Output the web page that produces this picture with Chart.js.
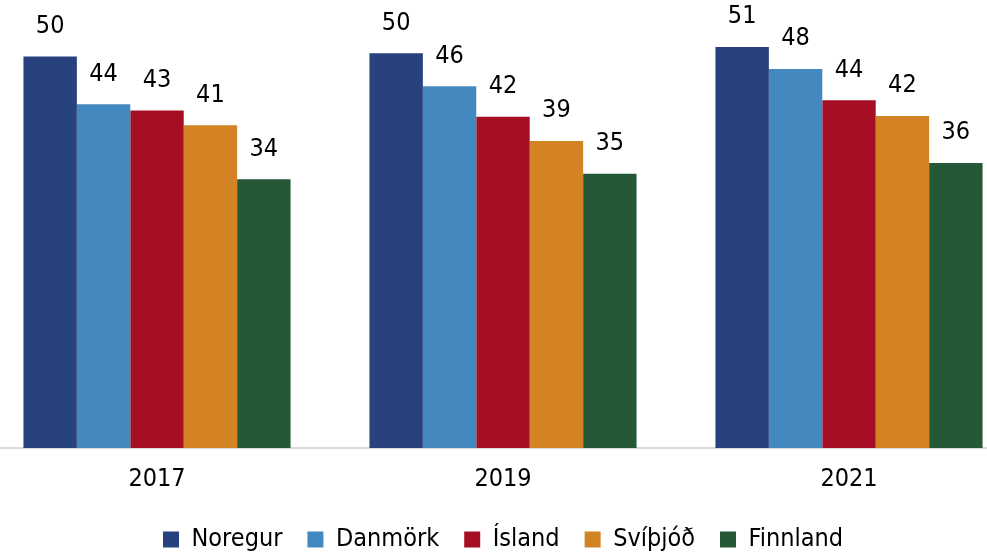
<!DOCTYPE html>
<html>
<head>
<meta charset="utf-8">
<script src="https://cdn.jsdelivr.net/npm/chart.js@4"></script>
<style>
  html, body { margin: 0; padding: 0; background: #fff; overflow: hidden; }
  #wrap { position: absolute; left: -16px; top: 0; width: 1038px; height: 554px; }
</style>
</head>
<body>
<div id="wrap"><canvas id="barChart"></canvas></div>
<script>
// Ár (flokkar)
const years = ['2017', '2019', '2021'];

// Gildi lesin af myndinni
const noregur  = [50.0, 50.4, 51.2];
const danmork  = [43.9, 46.2, 48.4];
const island   = [43.1, 42.3, 44.4];
const svithjod = [41.2, 39.2, 42.4];
const finnland = [34.3, 35.0, 36.4];

const seriesNames  = ['Noregur', 'Danmörk', 'Ísland', 'Svíþjóð', 'Finnland'];
const seriesValues = [noregur, danmork, island, svithjod, finnland];
const seriesColors = ['#27427f', '#4389bf', '#a60e24', '#d38323', '#245837'];

const fontFamily = '"DejaVu Sans Condensed", "Liberation Sans", sans-serif';

// Tölur fyrir ofan súlurnar
const valueLabels = {
    id: 'valueLabels',
    afterDatasetsDraw(chart) {
        const ctx = chart.ctx;
        ctx.save();
        ctx.font = '25px ' + fontFamily;
        ctx.fillStyle = '#000';
        ctx.textAlign = 'center';
        ctx.textBaseline = 'middle';
        chart.data.datasets.forEach(function(ds, i) {
            chart.getDatasetMeta(i).data.forEach(function(bar, j) {
                ctx.fillText(Math.round(ds.data[j]), bar.x, bar.y - 30);
            });
        });
        ctx.restore();
    }
};

const ctx = document.getElementById('barChart').getContext('2d');
new Chart(ctx, {
    type: 'bar',
    data: {
        labels: years,
        datasets: seriesNames.map(function(name, i) {
            return {
                label: name,
                data: seriesValues[i],
                backgroundColor: seriesColors[i],
                borderWidth: 0,
                barPercentage: 1.0,
                categoryPercentage: 0.772
            };
        })
    },
    options: {
        responsive: true,
        maintainAspectRatio: false,
        animation: false,
        layout: { padding: 0 },
        plugins: {
            tooltip: { enabled: false },
            legend: {
                position: 'bottom',
                maxHeight: 52,
                labels: {
                    boxWidth: 16,
                    boxHeight: 16,
                    padding: 25,
                    color: '#000',
                    font: { family: fontFamily, size: 25 }
                }
            }
        },
        scales: {
            y: {
                display: false,
                min: 0,
                max: 57.2
            },
            x: {
                grid: { display: false, drawTicks: false },
                border: { display: true, color: '#d9d9d9', width: 2 },
                ticks: {
                    color: '#000',
                    padding: 16,
                    font: { family: fontFamily, size: 25 }
                },
                afterFit: function(scale) {
                    scale.height = 54;
                }
            }
        }
    },
    plugins: [valueLabels]
});
</script>
</body>
</html>
